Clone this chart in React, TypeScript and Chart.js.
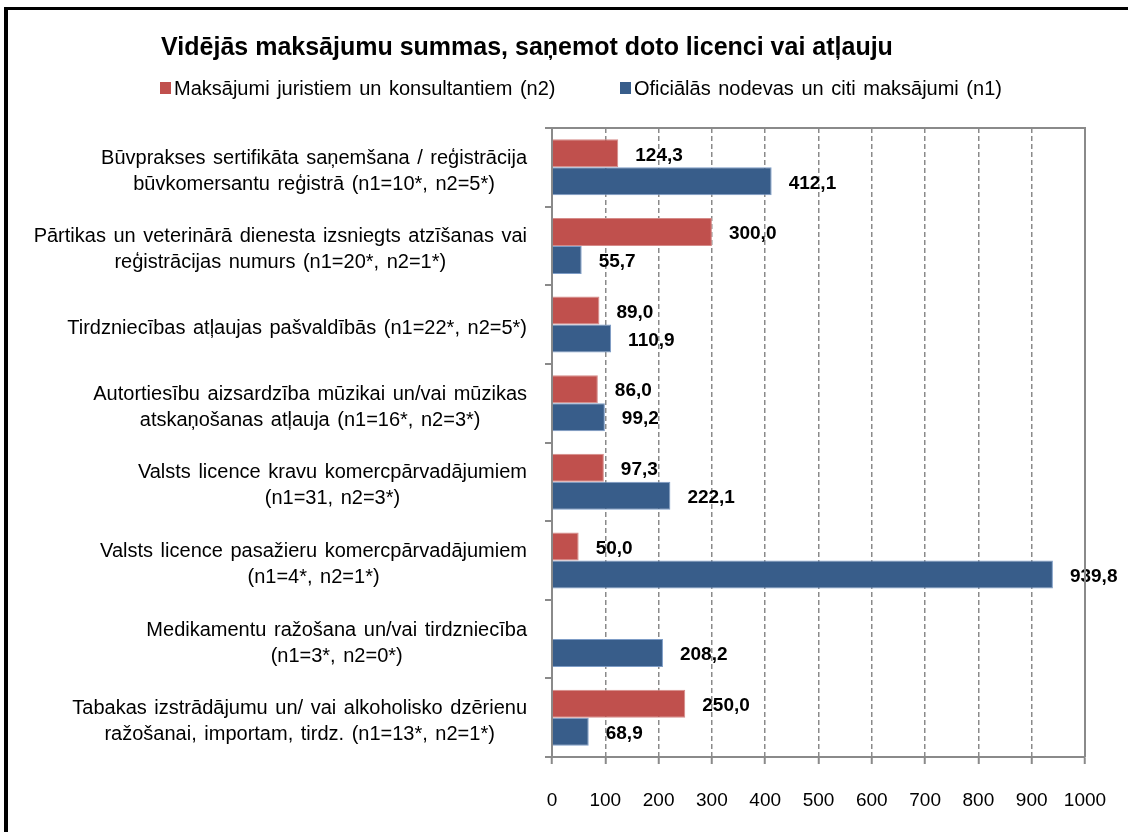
import React, { useEffect, useRef } from "react";
import { Chart, registerables } from "chart.js";

Chart.register(...registerables);

const chartTitle = "Vidējās maksājumu summas, saņemot doto licenci vai atļauju";

const categories: string[][] = [
  ["Būvprakses sertifikāta saņemšana / reģistrācija", "būvkomersantu reģistrā (n1=10*, n2=5*)"],
  ["Pārtikas un veterinārā dienesta izsniegts atzīšanas vai", "reģistrācijas numurs (n1=20*, n2=1*)"],
  ["Tirdzniecības atļaujas pašvaldībās (n1=22*, n2=5*)"],
  ["Autortiesību aizsardzība mūzikai un/vai mūzikas", "atskaņošanas atļauja (n1=16*, n2=3*)"],
  ["Valsts licence kravu komercpārvadājumiem", "(n1=31, n2=3*)"],
  ["Valsts licence pasažieru komercpārvadājumiem", "(n1=4*, n2=1*)"],
  ["Medikamentu ražošana un/vai tirdzniecība", "(n1=3*, n2=0*)"],
  ["Tabakas izstrādājumu un/ vai alkoholisko dzērienu", "ražošanai, importam, tirdz. (n1=13*, n2=1*)"],
];

const labelN2 = "Maksājumi juristiem un konsultantiem (n2)";
const labelN1 = "Oficiālās nodevas un citi maksājumi (n1)";

const paymentsN2: (number | null)[] = [124.3, 300.0, 89.0, 86.0, 97.3, 50.0, null, 250.0];
const paymentsN1: (number | null)[] = [412.1, 55.7, 110.9, 99.2, 222.1, 939.8, 208.2, 68.9];

const xMin = 0;
const xMax = 1000;
const xStep = 100;

const RED = "#C0504D";
const BLUE = "#385D8A";
const GRID = "#8a8a8a";
const FONT = "'Liberation Sans', Arial, sans-serif";

const fmt = (v: number) => v.toFixed(1).replace(".", ",");

const overlayPlugin = {
  id: "overlay",
  afterDatasetsDraw(chart: any) {
    const ctx = chart.ctx as CanvasRenderingContext2D;
    ctx.save();
    ctx.font = `bold 19px ${FONT}`;
    ctx.fillStyle = "#000";
    ctx.textAlign = "left";
    ctx.textBaseline = "middle";
    chart.data.datasets.forEach((ds: any, di: number) => {
      const meta = chart.getDatasetMeta(di);
      meta.data.forEach((el: any, i: number) => {
        const v = ds.data[i];
        if (v === null || v === undefined) return;
        ctx.fillText(fmt(v), el.x + 17, el.y + 2);
      });
    });
    ctx.restore();
  },
  afterDraw(chart: any) {
    const ctx = chart.ctx as CanvasRenderingContext2D;
    const area = chart.chartArea;
    ctx.save();
    ctx.strokeStyle = GRID;
    ctx.lineWidth = 2;
    ctx.beginPath();
    ctx.moveTo(area.left, area.top);
    ctx.lineTo(area.right, area.top);
    ctx.lineTo(area.right, area.bottom);
    ctx.stroke();
    ctx.restore();

    // title
    ctx.save();
    ctx.fillStyle = "#000";
    ctx.font = `bold 25px ${FONT}`;
    ctx.textAlign = "center";
    ctx.textBaseline = "middle";
    ctx.fillText(chartTitle, 527, 48);
    ctx.restore();

    // legend
    ctx.save();
    ctx.font = `20px ${FONT}`;
    (ctx as any).wordSpacing = "2px";
    ctx.textBaseline = "middle";
    ctx.textAlign = "left";
    const items = [
      { x: 160, color: chart.data.datasets[0].backgroundColor, text: chart.data.datasets[0].label },
      { x: 620, color: chart.data.datasets[1].backgroundColor, text: chart.data.datasets[1].label },
    ];
    items.forEach((it) => {
      ctx.fillStyle = it.color;
      ctx.fillRect(it.x, 82, 11, 12);
      ctx.fillStyle = "#000";
      ctx.fillText(it.text, it.x + 14, 89);
    });
    ctx.restore();

    // category labels (block right-aligned, lines centred)
    const y = chart.scales.y;
    ctx.save();
    ctx.font = `20px ${FONT}`;
    (ctx as any).wordSpacing = "2px";
    ctx.fillStyle = "#000";
    ctx.textAlign = "center";
    ctx.textBaseline = "middle";
    const lh = 26;
    categories.forEach((lines, i) => {
      const cy = y.getPixelForValue(i) + 4;
      const w = Math.max(...lines.map((l) => ctx.measureText(l).width));
      const cx = 527 - w / 2;
      const y0 = cy - ((lines.length - 1) * lh) / 2;
      lines.forEach((l, j) => ctx.fillText(l, cx, y0 + j * lh));
    });
    ctx.restore();
  },
};

export default function App() {
  const ref = useRef<HTMLCanvasElement | null>(null);

  useEffect(() => {
    if (!ref.current) return;
    const chart = new Chart(ref.current, {
      type: "bar",
      data: {
        labels: categories,
        datasets: [
          {
            label: labelN2,
            data: paymentsN2,
            backgroundColor: RED,
            borderColor: "#D58A88",
            borderWidth: 1,
            categoryPercentage: 0.712,
            barPercentage: 1.0,
          },
          {
            label: labelN1,
            data: paymentsN1,
            backgroundColor: BLUE,
            borderColor: "#7D9CC6",
            borderWidth: 1,
            categoryPercentage: 0.712,
            barPercentage: 1.0,
          },
        ],
      },
      options: {
        indexAxis: "y",
        responsive: false,
        animation: false,
        devicePixelRatio: 1,
        layout: { padding: { left: 0, top: 128, right: 43, bottom: 15 } },
        plugins: {
          legend: { display: false },
          title: { display: false },
          tooltip: { enabled: false },
        },
        scales: {
          x: {
            type: "linear",
            position: "bottom",
            min: xMin,
            max: xMax,
            ticks: {
              stepSize: xStep,
              color: "#000",
              font: { family: FONT, size: 19 },
              padding: 25,
              maxRotation: 0,
              callback: (v: any) => String(v),
            },
            grid: {
              color: GRID,
              lineWidth: 1.5,
              drawTicks: true,
              tickLength: 7,
              tickBorderDash: [],
              tickWidth: 2,
              tickColor: GRID,
            },
            border: { display: true, color: GRID, width: 2, dash: [5, 3] },
            afterFit: (scale: any) => {
              scale.height = 60;
              scale.paddingLeft = 0;
              scale.paddingRight = 0;
            },
          },
          y: {
            type: "category",
            offset: true,
            ticks: { display: false },
            grid: {
              offset: true,
              drawOnChartArea: false,
              drawTicks: true,
              tickLength: 7,
              color: GRID,
              lineWidth: 2,
            },
            border: { display: true, color: GRID, width: 2 },
            afterFit: (scale: any) => {
              scale.width = 552;
              scale.paddingTop = 0;
              scale.paddingBottom = 0;
            },
          },
        },
      } as any,
      plugins: [overlayPlugin],
    });
    return () => chart.destroy();
  }, []);

  return (
    <div
      style={{
        position: "fixed",
        left: 0,
        top: 0,
        width: 1128,
        height: 832,
        overflow: "hidden",
        background: "#fff",
      }}
    >
      <div
        style={{
          position: "absolute",
          left: 4,
          top: 7,
          width: 1300,
          height: 1000,
          borderLeft: "4px solid #000",
          borderTop: "3px solid #000",
        }}
      />
      <canvas
        ref={ref}
        width={1128}
        height={832}
        style={{ position: "absolute", left: 0, top: 0, display: "block" }}
      />
    </div>
  );
}
